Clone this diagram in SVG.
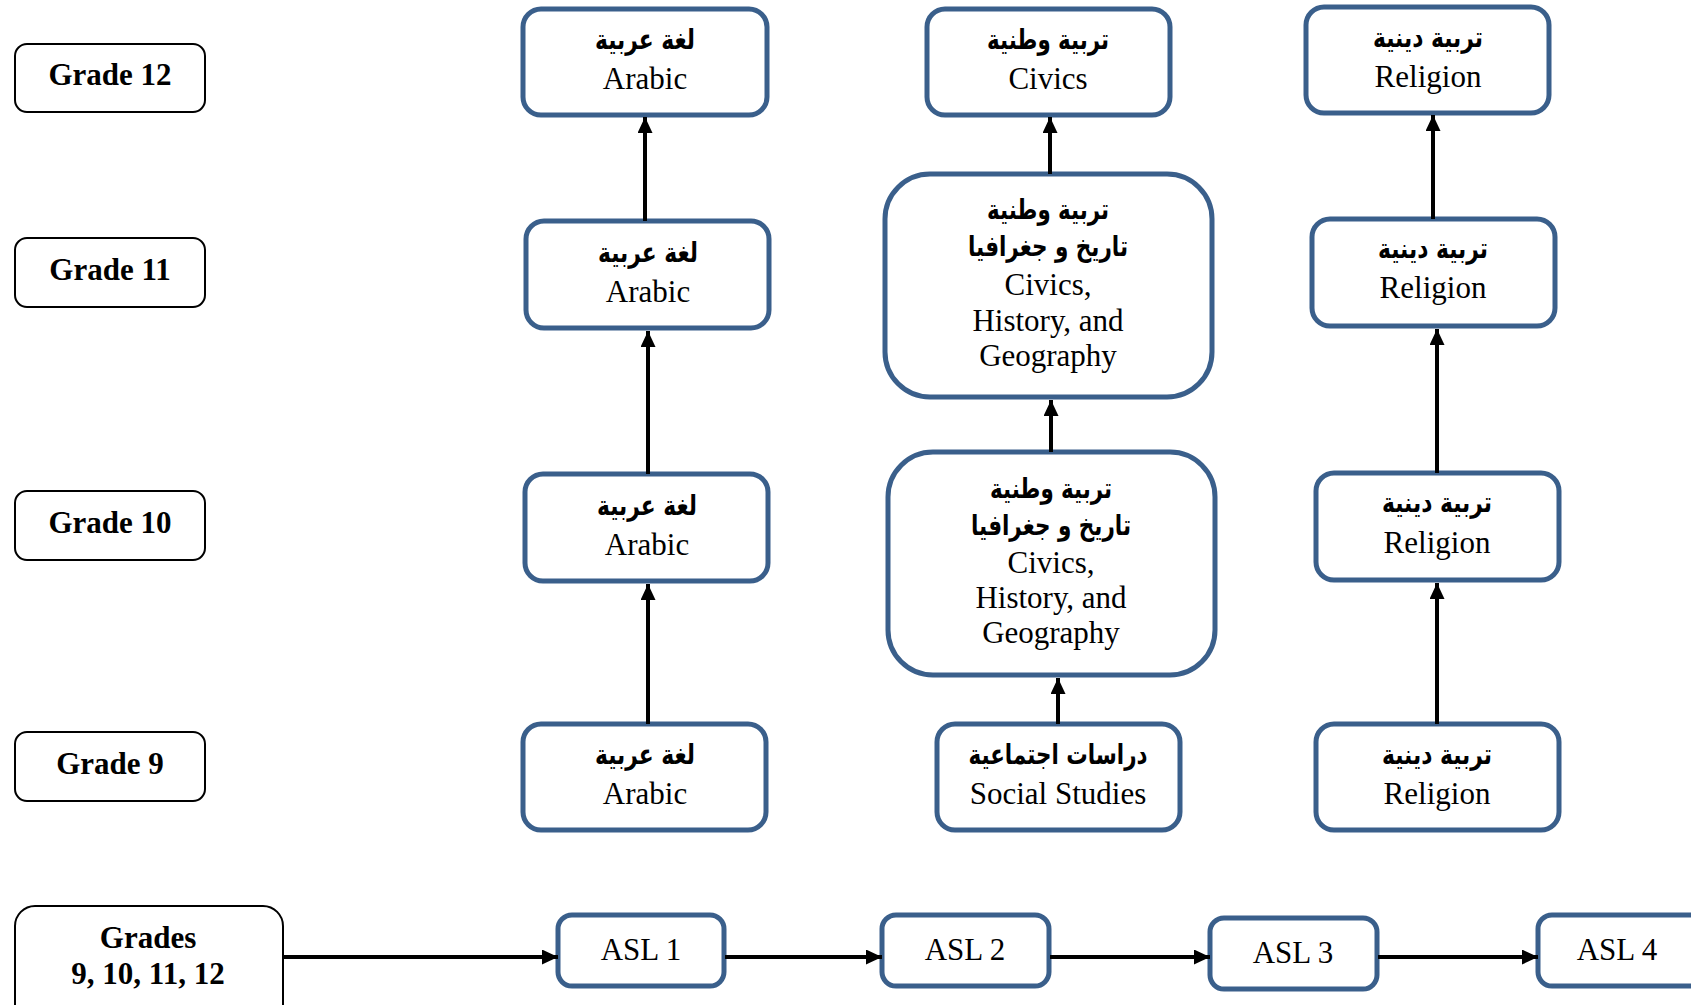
<svg xmlns="http://www.w3.org/2000/svg" width="1691" height="1005" viewBox="0 0 1691 1005">
<style>
.gbox{fill:#fff;stroke:#000;stroke-width:2}
.bbox{fill:#fff;stroke:#3A5F8B;stroke-width:5}
.gt{font-family:"Liberation Serif","Times New Roman",serif;font-weight:bold;font-size:31px;text-anchor:middle;fill:#000}
.et{font-family:"Liberation Serif","Times New Roman",serif;font-size:31px;text-anchor:middle;fill:#000}
.at{font-family:"DejaVu Sans",sans-serif;font-weight:bold;font-size:28px;text-anchor:middle;fill:#000}
.conn line{stroke:#000;stroke-width:4;fill:none}
</style>
<defs>
<marker id="ah" markerUnits="userSpaceOnUse" markerWidth="17" markerHeight="15" refX="16" refY="7.5" orient="auto">
<path d="M0,0 L16,7.5 L0,15 z" fill="#000"/>
</marker>
</defs>
<rect width="1691" height="1005" fill="#fff"/>

<g id="grade12"><rect class="gbox" x="15" y="44" width="190" height="68" rx="12"/><text class="gt" x="110" y="85">Grade 12</text></g>
<g id="grade11"><rect class="gbox" x="15" y="238" width="190" height="69" rx="12"/><text class="gt" x="110" y="280">Grade 11</text></g>
<g id="grade10"><rect class="gbox" x="15" y="491" width="190" height="69" rx="12"/><text class="gt" x="110" y="533">Grade 10</text></g>
<g id="grade9"><rect class="gbox" x="15" y="732" width="190" height="69" rx="12"/><text class="gt" x="110" y="774">Grade 9</text></g>
<g id="grades-all"><rect class="gbox" x="15" y="906" width="268" height="120" rx="20"/><text class="gt" x="148" y="948">Grades</text><text class="gt" x="148" y="984">9, 10, 11, 12</text></g>

<g id="arabic12"><rect class="bbox" x="523" y="9" width="244" height="106" rx="18"/><text class="at" x="645" y="49" textLength="100" lengthAdjust="spacingAndGlyphs">لغة عربية</text><text class="et" x="645" y="89">Arabic</text></g>
<g id="arabic11"><rect class="bbox" x="526" y="221" width="243" height="107" rx="18"/><text class="at" x="648" y="262" textLength="100" lengthAdjust="spacingAndGlyphs">لغة عربية</text><text class="et" x="648" y="302">Arabic</text></g>
<g id="arabic10"><rect class="bbox" x="525" y="474" width="243" height="107" rx="18"/><text class="at" x="647" y="515" textLength="100" lengthAdjust="spacingAndGlyphs">لغة عربية</text><text class="et" x="647" y="555">Arabic</text></g>
<g id="arabic9"><rect class="bbox" x="523" y="724" width="243" height="106" rx="18"/><text class="at" x="645" y="764" textLength="100" lengthAdjust="spacingAndGlyphs">لغة عربية</text><text class="et" x="645" y="804">Arabic</text></g>

<g id="civics12"><rect class="bbox" x="927" y="9" width="243" height="106" rx="18"/><text class="at" x="1048" y="49" textLength="122" lengthAdjust="spacingAndGlyphs">تربية وطنية</text><text class="et" x="1048" y="89">Civics</text></g>
<g id="civics11"><rect class="bbox" x="885" y="174" width="327" height="223" rx="45"/><text class="at" x="1048" y="219" textLength="122" lengthAdjust="spacingAndGlyphs">تربية وطنية</text><text class="at" x="1048" y="256" textLength="160" lengthAdjust="spacingAndGlyphs">تاريخ و جغرافيا</text><text class="et" x="1048" y="295">Civics,</text><text class="et" x="1048" y="331">History, and</text><text class="et" x="1048" y="366">Geography</text></g>
<g id="civics10"><rect class="bbox" x="888" y="452" width="327" height="223" rx="45"/><text class="at" x="1051" y="498" textLength="122" lengthAdjust="spacingAndGlyphs">تربية وطنية</text><text class="at" x="1051" y="535" textLength="160" lengthAdjust="spacingAndGlyphs">تاريخ و جغرافيا</text><text class="et" x="1051" y="573">Civics,</text><text class="et" x="1051" y="608">History, and</text><text class="et" x="1051" y="643">Geography</text></g>
<g id="social9"><rect class="bbox" x="937" y="724" width="243" height="106" rx="18"/><text class="at" x="1058" y="764" textLength="179" lengthAdjust="spacingAndGlyphs">دراسات اجتماعية</text><text class="et" x="1058" y="804">Social Studies</text></g>

<g id="religion12"><rect class="bbox" x="1306" y="7" width="243" height="106" rx="18"/><text class="at" x="1428" y="47" textLength="110" lengthAdjust="spacingAndGlyphs">تربية دينية</text><text class="et" x="1428" y="87">Religion</text></g>
<g id="religion11"><rect class="bbox" x="1312" y="219" width="243" height="107" rx="18"/><text class="at" x="1433" y="258" textLength="110" lengthAdjust="spacingAndGlyphs">تربية دينية</text><text class="et" x="1433" y="298">Religion</text></g>
<g id="religion10"><rect class="bbox" x="1316" y="473" width="243" height="107" rx="18"/><text class="at" x="1437" y="512" textLength="110" lengthAdjust="spacingAndGlyphs">تربية دينية</text><text class="et" x="1437" y="553">Religion</text></g>
<g id="religion9"><rect class="bbox" x="1316" y="724" width="243" height="106" rx="18"/><text class="at" x="1437" y="764" textLength="110" lengthAdjust="spacingAndGlyphs">تربية دينية</text><text class="et" x="1437" y="804">Religion</text></g>

<g id="asl1"><rect class="bbox" x="558" y="915" width="166" height="71" rx="14"/><text class="et" x="641" y="960">ASL 1</text></g>
<g id="asl2"><rect class="bbox" x="882" y="915" width="167" height="71" rx="14"/><text class="et" x="965" y="960">ASL 2</text></g>
<g id="asl3"><rect class="bbox" x="1210" y="918" width="167" height="71" rx="14"/><text class="et" x="1293" y="963">ASL 3</text></g>
<g id="asl4"><rect class="bbox" x="1538" y="915" width="170" height="71" rx="14"/><text class="et" x="1617" y="960">ASL 4</text></g>

<g id="connectors" class="conn">
<line x1="645" y1="221" x2="645" y2="117" marker-end="url(#ah)"/>
<line x1="648" y1="474" x2="648" y2="331" marker-end="url(#ah)"/>
<line x1="648" y1="724" x2="648" y2="584" marker-end="url(#ah)"/>
<line x1="1050" y1="174" x2="1050" y2="117" marker-end="url(#ah)"/>
<line x1="1051" y1="452" x2="1051" y2="400" marker-end="url(#ah)"/>
<line x1="1058" y1="724" x2="1058" y2="678" marker-end="url(#ah)"/>
<line x1="1433" y1="219" x2="1433" y2="115" marker-end="url(#ah)"/>
<line x1="1437" y1="473" x2="1437" y2="329" marker-end="url(#ah)"/>
<line x1="1437" y1="724" x2="1437" y2="583" marker-end="url(#ah)"/>
<line x1="283" y1="957" x2="558" y2="957" marker-end="url(#ah)"/>
<line x1="725" y1="957" x2="882" y2="957" marker-end="url(#ah)"/>
<line x1="1050" y1="957" x2="1210" y2="957" marker-end="url(#ah)"/>
<line x1="1378" y1="957" x2="1538" y2="957" marker-end="url(#ah)"/>
</g>
</svg>
